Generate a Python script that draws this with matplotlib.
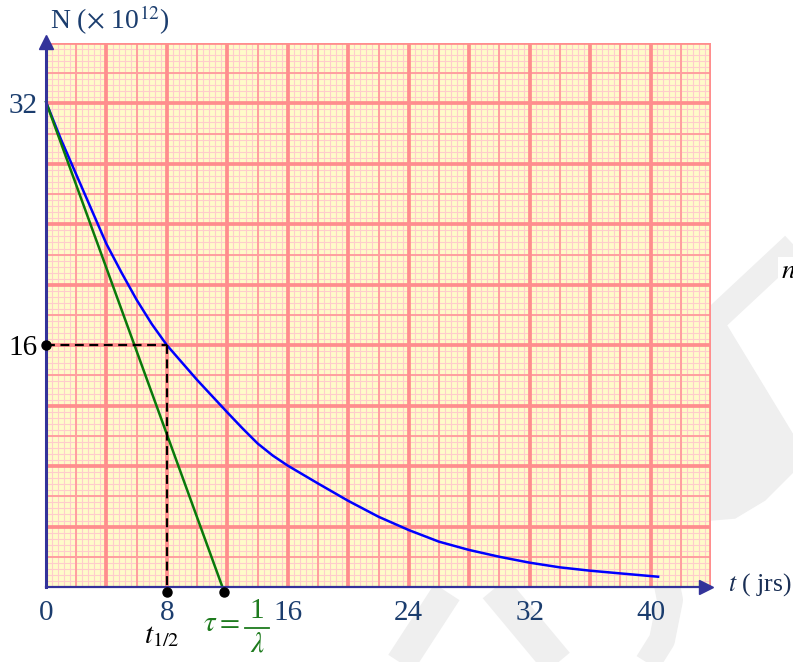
import numpy as np
import matplotlib.pyplot as plt
from matplotlib.lines import Line2D
from matplotlib.patches import Polygon

plt.rcParams['font.family'] = ['Liberation Serif', 'DejaVu Serif']
plt.rcParams['mathtext.fontset'] = 'stix'

# decay curve
t_curve = [0, 1, 2, 3, 4, 5, 6, 7, 8, 10, 12, 13, 14, 15, 16, 18, 20, 22, 24, 26, 28, 30, 32,
           34, 36, 38, 40.5]
N_curve = [32.1, 29.6, 27.3, 25.0, 22.7, 20.8, 19.0, 17.4, 16.0, 13.7, 11.55, 10.5, 9.5, 8.7,
           8.03, 6.85, 5.7, 4.65, 3.77, 3.0, 2.45, 2.0, 1.61, 1.3, 1.08, 0.9, 0.68]

# tangent at t = 0, cutting the t axis at tau
tangent_t = [0, 11.8]
tangent_N = [32.1, -0.35]

half_life = 8
half_N = 16
tau = 11.8

x_ticks = [0, 8, 16, 24, 32, 40]
y_ticks = [16, 32]

navy = '#1b3d6e'
green = '#1e7b1e'
axis_col = '#33339a'

W, H = 793, 662
fig = plt.figure(figsize=(W / 100, H / 100), dpi=100)


def fpx(x, y):
    return x / W, 1 - y / H


# faint watermark behind the paper
wm = '#efefef'
def wm_line(pts, width):
    xs, ys = zip(*[fpx(*p) for p in pts])
    fig.add_artist(Line2D(xs, ys, color=wm, lw=width * 0.72, transform=fig.transFigure,
                          zorder=-5, solid_capstyle='butt', solid_joinstyle='round'))

wm_line([(700, 333), (805, 235)], 26)
wm_line([(395, 672), (447, 592)], 30)
wm_line([(495, 588), (565, 672)], 32)
wm_line([(662, 560), (670, 600), (662, 640), (642, 672)], 26)
poly = [fpx(*p) for p in [(711, 318), (722, 318), (793, 435), (793, 472), (765, 500),
                          (735, 518), (711, 520)]]
fig.add_artist(Polygon(poly, closed=True, color=wm, transform=fig.transFigure, zorder=-5))

ax = fig.add_axes([46 / W, 75 / H, 665 / W, 544 / H])
ax.set_xlim(0, 44)
ax.set_ylim(0, 36)
ax.set_facecolor('#fffbc9')
for s in ax.spines.values():
    s.set_visible(False)

# graph paper: fine, medium and thick rulings
for v in np.arange(0, 44.01, 0.4):
    ax.axvline(v, color='#ffcccc', lw=0.8, zorder=0)
for v in np.arange(0, 36.01, 0.4):
    ax.axhline(v, color='#ffcccc', lw=0.8, zorder=0)
for v in np.arange(2, 44.01, 4):
    ax.axvline(v, color='#ff9f9f', lw=1.4, zorder=0.5)
for v in np.arange(2, 36.01, 4):
    ax.axhline(v, color='#ff9f9f', lw=1.4, zorder=0.5)
for v in np.arange(4, 44.01, 4):
    ax.axvline(v, color='#ff8e8e', lw=2.7, zorder=0.6)
for v in np.arange(4, 36.01, 4):
    ax.axhline(v, color='#ff8e8e', lw=2.7, zorder=0.6)

# curve and tangent
ax.plot(t_curve, N_curve, color='#0000ff', lw=1.8, zorder=3)
ax.plot(tangent_t, tangent_N, color='#0a7a0a', lw=1.8, zorder=3, clip_on=False)

# half-life guides
ax.plot([0, half_life], [half_N, half_N], color='black', lw=1.6, ls=(0, (4, 2.5)), zorder=4)
ax.plot([half_life, half_life], [half_N, -0.3], color='black', lw=1.6, ls=(0, (4, 2.5)),
        zorder=4, clip_on=False)
ax.plot([0, half_life, tau], [half_N, -0.35, -0.35], 'o', color='black', ms=6.5,
        zorder=6, clip_on=False)

# axes with arrow heads
ax.plot([0, 0], [0, 35.6], color=axis_col, lw=2.2, zorder=5, clip_on=False)
ax.plot([0, 43.3], [0, 0], color=axis_col, lw=1.6, zorder=5, clip_on=False)
ax.plot([0], [36.05], marker='^', color=axis_col, ms=10.5, zorder=5, clip_on=False)
ax.plot([43.7], [0], marker='>', color=axis_col, ms=10.5, zorder=5, clip_on=False)

ax.set_xticks(x_ticks)
ax.set_xticklabels([str(v) for v in x_ticks], fontsize=21, color=navy)
ax.set_yticks(y_ticks)
ax.set_yticklabels([str(v) for v in y_ticks], fontsize=21)
ax.get_yticklabels()[0].set_color('black')
ax.get_yticklabels()[1].set_color(navy)
ax.tick_params(axis='x', length=0, pad=9)
ax.tick_params(axis='y', length=0, pad=6)

fig.text(*fpx(50, 20), r'N ($\times$ 10$^{12}$)', fontsize=20, color=navy,
         ha='left', va='center')
fig.text(*fpx(728, 585), r'$t$ ( jrs)', fontsize=18.5, color='#1a2f55', ha='left', va='center')
fig.text(*fpx(162, 636), r'$t_{1/2}$', fontsize=21, color='black', ha='center', va='center')

# tau = 1 / lambda, built as a stacked fraction
fig.text(*fpx(221, 624), r'$\tau =$', fontsize=21, color=green, ha='center', va='center')
fig.text(*fpx(257, 611), '1', fontsize=21, color=green, ha='center', va='center')
fig.text(*fpx(257, 645), r'$\lambda$', fontsize=21, color=green, ha='center', va='center')
bx, by = zip(fpx(245, 628), fpx(269, 628))
fig.add_artist(Line2D(bx, by, color=green, lw=1.3, transform=fig.transFigure))

# partial label at the right margin, cut by the page edge as in the source
fig.text(*fpx(781, 272), r'$n$', fontsize=20, color='black', ha='left', va='center',
         bbox=dict(facecolor='white', edgecolor='none', pad=2))

fig.savefig('out.png', dpi=100)
